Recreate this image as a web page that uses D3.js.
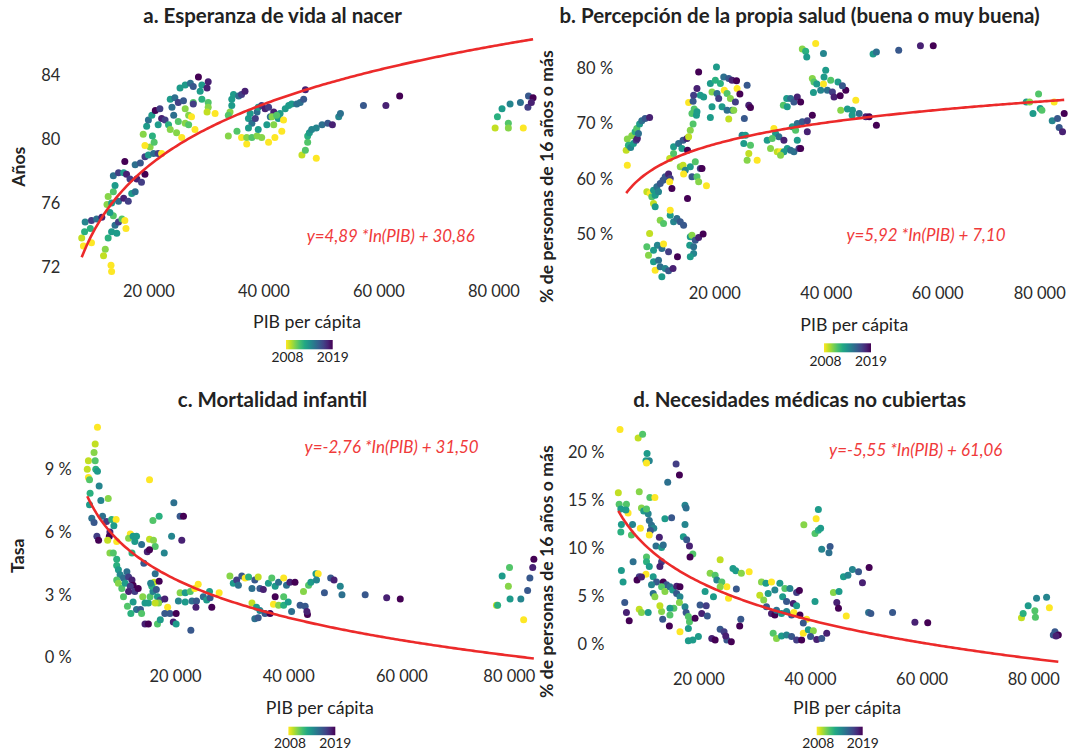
<!DOCTYPE html>
<html><head><meta charset="utf-8">
<script src="https://cdn.jsdelivr.net/npm/d3@7"></script>
<style>body{margin:0;background:#fff}svg{display:block}</style>
</head><body><svg id="chart" width="1084" height="755"></svg>
<script>
// ---------- DATA: [PIB per cápita, valor, año] ----------
const lifeExp = [
[8700,73.3,2008],[8400,73.8,2009],[8900,74.2,2012],[9000,74.8,2014],[10100,74.9,2017],[11000,75.0,2015],[11900,75.1,2018],[9900,74.4,2012],[10100,73.5,2008],[12500,73.1,2010],[12200,72.7,2009],[13500,72.1,2008],[13600,71.7,2008],[13000,73.8,2012],[13600,74.2,2013],[14500,74.1,2013],[14200,74.6,2015],[14800,74.8,2017],[15400,75.0,2011],[15900,74.9,2008],[16100,74.4,2008],[13900,75.2,2011],[13300,75.4,2013],[12800,75.9,2010],[13600,76.0,2013],[14800,76.1,2015],[15700,76.3,2018],[16500,76.1,2017],[17100,76.6,2013],[17700,76.7,2015],[13000,76.4,2010],[13900,76.7,2011],[14200,77.1,2013],[13900,77.7,2015],[14800,77.9,2017],[15700,77.9,2013],[16200,77.8,2018],[16800,77.5,2017],[15900,78.6,2019],[17700,78.4,2015],[18600,78.5,2016],[18000,77.5,2018],[18800,77.3,2017],[19400,77.8,2019],[19400,78.9,2017],[20000,79.0,2013],[20900,79.1,2015],[21700,79.1,2017],[22300,79.1,2008],[20300,79.5,2010],[19400,79.6,2008],[21000,79.8,2011],[20700,80.2,2012],[19100,80.3,2010],[19700,80.8,2013],[20000,81.2,2015],[20600,81.5,2013],[21200,81.8,2019],[22000,81.9,2017],[22300,81.3,2018],[21700,80.9,2013],[22900,81.2,2017],[23500,80.9,2012],[23800,80.6,2010],[24900,80.4,2010],[25800,80.1,2008],[24400,81.5,2015],[24100,82.0,2015],[23800,82.5,2013],[24600,82.6,2015],[25200,82.3,2017],[26100,82.4,2016],[26400,81.9,2010],[25500,83.2,2013],[26400,83.4,2013],[27300,83.5,2015],[27800,83.3,2016],[28700,83.9,2019],[29300,83.4,2013],[30200,83.2,2018],[30400,83.6,2018],[29000,83.0,2013],[29300,82.5,2012],[30400,82.3,2011],[30400,82.0,2010],[27800,82.3,2011],[27800,82.2,2017],[27000,81.5,2010],[27500,81.4,2008],[25200,81.1,2011],[26400,81.0,2010],[27000,80.9,2011],[28100,80.6,2008],[31600,81.6,2008],[30200,81.7,2009],
[33900,80.2,2010],[34200,81.7,2010],[33900,81.5,2011],[34500,82.1,2013],[34500,82.5,2013],[34800,82.8,2013],[35700,82.7,2015],[36200,82.8,2017],[36800,83.0,2018],[35400,80.5,2011],[36200,80.1,2008],[37100,79.7,2008],[37400,81.3,2013],[37700,81.6,2013],[38000,81.0,2015],[38600,81.3,2017],[38900,81.7,2015],[39100,82.0,2013],[39700,82.1,2017],[40300,81.9,2018],[40900,82.0,2017],[41200,81.4,2015],[41800,81.7,2018],[37400,80.7,2013],[37100,80.1,2010],[38000,80.1,2011],[38900,80.2,2010],[39100,80.6,2013],[39700,80.1,2010],[40600,80.9,2013],[40900,79.8,2008],[42000,80.1,2008],[41800,80.9,2010],[41500,81.4,2010],[42600,81.3,2013],[43200,80.5,2008],[43500,81.2,2008],[42900,81.6,2013],[43800,81.9,2013],[44400,82.1,2013],[44900,82.2,2013],[45800,82.2,2015],[46400,82.3,2015],[47000,82.5,2016],[47300,83.1,2018],[42300,81.5,2011],
[46700,79.0,2009],[47300,79.3,2011],[49200,78.8,2008],[47700,79.8,2011],[47700,80.2,2012],[48000,80.4,2013],[48400,80.6,2014],[49200,80.7,2014],[50200,80.9,2015],[51200,81.0,2016],[52000,80.9,2018],[53100,81.4,2014],[53400,81.6,2015],[57400,82.1,2016],[61300,82.1,2018],[63700,82.7,2019],
[80300,80.7,2009],[80700,81.4,2012],[81500,81.9,2013],[82900,82.2,2014],[84700,82.3,2015],[86100,82.7,2016],[86000,82.0,2017],[82600,81.0,2011],[82600,80.7,2010],[85200,80.7,2008],[86900,82.6,2019],[86600,82.3,2018]
];
const selfHealth = [
[4400,62.5,2008],[4200,65.2,2009],[4400,67.2,2010],[4600,66.1,2012],[5000,65.7,2014],[5500,66.4,2013],[5200,67.8,2010],[6000,67.0,2017],[6200,67.3,2018],[5800,68.5,2012],[6100,69.1,2011],[6600,69.9,2013],[7000,70.5,2015],[7600,70.9,2016],[8400,71.1,2018],[6400,68.2,2015],
[7900,57.7,2009],[8500,57.4,2008],[9100,58.0,2013],[8800,56.8,2011],[9400,57.1,2013],[9700,58.6,2015],[10000,57.7,2014],[10300,59.2,2016],[10800,59.8,2016],[11200,60.4,2016],[11800,60.9,2018],[12100,60.1,2017],[12000,59.5,2008],[12400,58.3,2019],[9100,55.6,2009],[9400,55.0,2013],[8400,50.2,2009],[7900,47.8,2011],[8200,46.3,2010],[9100,47.2,2013],[9800,48.1,2014],[10600,47.5,2015],[10900,48.3,2008],[9100,45.1,2013],[10000,45.4,2015],[9400,43.6,2008],[10300,44.2,2015],[11200,43.9,2014],[11800,43.5,2016],[12600,43.9,2018],[10600,42.4,2013],[11800,46.9,2017],[13400,46.0,2019],[10300,52.6,2010],[10900,52.0,2011],[12100,53.5,2013],[12700,52.3,2014],[13300,52.9,2015],[13900,52.3,2016],[14500,51.7,2016],[12100,54.4,2008],[15200,56.5,2019],[15700,49.6,2013],[15600,48.1,2013],[16300,47.8,2015],[16000,49.9,2010],[16600,49.0,2016],[17200,49.5,2018],[18000,50.1,2019],[16300,46.6,2014],[15700,46.0,2013],
[12700,65.8,2013],[13600,66.4,2015],[14400,67.0,2016],[15100,67.3,2018],[14200,65.5,2013],[15200,65.2,2019],[12000,63.7,2009],[12700,64.6,2011],[13900,62.2,2010],[14400,62.5,2009],[14800,61.6,2014],[14500,60.9,2008],[15700,62.2,2013],[16000,60.4,2016],[16900,60.4,2011],[17500,61.9,2017],[17800,61.9,2019],[17200,59.5,2010],[18600,58.8,2008],[16600,63.1,2011],[15400,67.6,2009],[15700,68.8,2010],[16200,69.9,2011],[16000,71.8,2011],[16800,71.5,2013],[15400,73.8,2008],[16200,74.0,2016],[16400,72.6,2011],[16900,72.1,2013],[17200,79.3,2019],[16900,76.3,2018],[17500,75.1,2013],[18100,74.8,2013],[16300,75.1,2017],
[19300,77.2,2013],[19600,75.7,2010],[20200,77.8,2012],[20400,80.2,2013],[21100,77.2,2012],[21700,78.4,2015],[22600,78.1,2016],[23200,77.8,2018],[24000,77.7,2019],[21800,76.0,2008],[22300,75.4,2011],[20500,75.4,2015],[20800,74.5,2017],[22900,74.5,2010],[24100,76.3,2008],[24600,75.3,2019],[23800,73.9,2017],[25900,76.9,2016],[26200,73.3,2018],[26500,72.9,2019],[19600,73.0,2013],[21400,73.0,2013],[22300,72.4,2015],[23200,72.4,2015],[23500,72.4,2010],[22600,70.8,2009],[19300,71.1,2013],[25400,70.9,2016],
[25000,67.9,2014],[25600,67.9,2013],[25300,66.4,2013],[26500,66.1,2011],[26200,64.6,2009],[27700,63.4,2008],[25900,63.4,2010],[29500,67.0,2013],[30100,65.5,2010],[30700,69.1,2008],[31000,68.2,2013],[31600,67.6,2015],[32500,67.0,2018],[30400,67.3,2011],[31300,64.9,2009],[31900,64.9,2008],[32400,73.3,2011],[33000,74.5,2013],[33700,74.5,2015],[34300,73.9,2016],[34900,74.8,2018],[35500,73.9,2019],[33100,73.0,2013],[34000,69.4,2013],[34900,70.0,2015],[35800,70.3,2016],[36700,70.5,2017],[37600,71.5,2019],[36700,68.5,2018],[34600,68.8,2011],[34900,67.0,2013],[33100,65.5,2013],[33700,65.2,2015],[34300,64.9,2015],[35200,65.5,2017],[35500,65.5,2019],[32500,64.9,2013],[31900,64.3,2010],
[35800,83.4,2010],[36400,83.0,2012],[36600,82.0,2013],[38200,84.4,2008],[39600,82.6,2014],[40000,79.6,2013],[37600,78.1,2010],[37900,77.5,2011],[38400,77.1,2013],[39600,77.1,2008],[39700,78.4,2013],[40900,77.8,2011],[42200,77.5,2013],[37800,75.6,2013],[39100,76.0,2014],[40300,76.0,2015],[41200,75.7,2017],[41500,74.8,2018],[42600,75.0,2019],[43600,76.0,2019],[43000,76.8,2016],[45400,74.2,2008],[42700,72.4,2010],[43900,72.6,2013],[44800,72.4,2013],[46000,71.8,2015],[44750,71.5,2013],[47200,71.2,2018],[47800,71.2,2019],[49100,69.7,2019],
[48500,82.5,2013],[49100,82.9,2015],[53100,83.2,2016],[57000,84.0,2018],[59300,84.0,2019],
[76000,73.9,2013],[76600,73.9,2010],[78200,75.3,2011],[77200,71.8,2013],[78500,72.7,2013],[78800,72.4,2011],[81000,73.9,2008],[80650,70.5,2014],[81600,70.9,2016],[82800,71.8,2019],[81900,69.3,2016],[82500,68.5,2018]
];
const infantMort = [
[6300,11.0,2008],[5900,10.2,2009],[5700,9.8,2010],[4700,9.4,2009],[5900,9.4,2011],[4500,9.0,2009],[6000,9.0,2012],[6300,8.9,2013],[4700,8.6,2008],[4900,8.5,2011],[6600,8.2,2014],[5000,7.85,2012],[4900,7.3,2013],[6900,7.5,2014],[8200,7.6,2010],[5300,6.65,2015],[5700,6.45,2016],[7200,6.75,2015],[7900,6.5,2017],[8800,6.6,2012],[9600,6.6,2008],[9200,6.3,2013],[6200,5.8,2017],[6500,5.6,2019],[8500,6.0,2018],[8400,5.8,2019],[8100,5.6,2009],[9700,5.55,2008],[12100,5.9,2008],[11800,5.7,2010],[12600,5.8,2013],[13200,5.8,2013],[12900,5.55,2013],[14100,5.4,2015],[15500,5.65,2009],[16200,5.6,2010],[16500,5.3,2011],[15100,5.05,2018],[15500,5.15,2019],[8500,5.0,2010],[9100,5.0,2011],[12400,5.0,2012],[9700,4.7,2012],[14500,4.5,2016],[18100,5.0,2014],[15500,8.5,2008],[16100,6.55,2011],[17200,6.75,2012],[19800,7.4,2015],[20900,6.75,2016],[21500,6.75,2019],[19400,5.8,2014],[21200,5.6,2018],
[9700,4.4,2012],[10000,4.2,2013],[10300,3.95,2014],[10900,3.8,2015],[11500,4.1,2015],[11800,3.85,2017],[12400,3.7,2018],[12600,3.45,2019],[9700,3.7,2011],[10000,3.55,2010],[10600,3.3,2011],[11200,3.55,2013],[12100,3.4,2017],[12900,3.15,2017],[13500,3.3,2019],[11800,3.15,2018],[10900,2.9,2011],[12600,2.65,2013],[13200,2.3,2015],[13900,2.3,2016],[11600,2.45,2011],[12200,2.1,2012],[14300,2.9,2010],[14700,2.6,2013],[15300,2.6,2013],[15600,2.9,2011],[16100,3.15,2014],[16300,3.6,2009],[15900,3.4,2012],[16700,3.25,2016],[17200,3.65,2019],[16900,2.9,2013],[17400,2.75,2016],[18200,2.8,2018],[17100,2.6,2010],[16500,2.6,2009],[18700,2.4,2008],[18200,2.1,2016],[19100,2.1,2016],[20200,2.1,2019],[19700,1.7,2018],[14700,1.6,2018],[15300,1.6,2019],[16900,1.6,2011],[17400,1.8,2013],[20200,1.6,2013],[22800,1.3,2016],[15700,3.55,2014],[16500,4.0,2015],[14100,2.1,2011],
[20900,3.1,2010],[21800,3.1,2013],[22700,3.15,2011],[23500,3.3,2008],[24100,3.5,2008],[20600,2.7,2014],[21800,2.65,2013],[23000,2.7,2015],[23800,2.7,2016],[23700,2.4,2018],[25000,2.9,2015],[25600,2.75,2013],[26200,2.85,2016],[26500,2.4,2019],[27800,3.1,2008],[26100,3.15,2013],
[29700,3.9,2010],[30300,3.55,2013],[30900,3.7,2017],[31200,3.45,2015],[31800,3.9,2016],[32400,3.8,2008],[33000,3.85,2012],[33600,3.3,2015],[34100,3.7,2016],[34700,3.85,2009],[35000,3.3,2016],[35600,3.25,2018],[36500,3.55,2013],[37100,3.8,2011],[37700,3.4,2013],[38300,3.6,2015],[39200,3.8,2008],[39700,3.45,2015],[40300,3.6,2018],[41200,3.6,2019],[33600,2.6,2009],[34400,2.4,2013],[35000,2.25,2014],[34100,1.85,2015],[34700,1.9,2016],[35900,2.1,2016],[36800,2.1,2019],[37700,2.9,2019],[37400,2.55,2008],[38300,2.5,2010],[39200,2.5,2012],[40000,2.65,2013],[39200,2.9,2011],[40600,2.2,2015],[42100,2.5,2016],[43000,2.45,2016],[43400,2.05,2019],[43300,2.2,2018],[42700,3.15,2010],[43600,3.45,2011],[44000,3.6,2013],[44900,4.0,2013],[45300,4.0,2008],[45000,3.7,2014],
[46400,3.1,2016],[47500,3.8,2016],[48100,3.7,2018],[49200,3.4,2014],[49500,3.0,2015],[53600,3.0,2016],[57400,2.85,2018],[59800,2.8,2019],[76800,2.5,2009],[77000,2.5,2012],[77800,3.9,2013],[79100,4.3,2011],[78900,3.4,2010],[79200,2.8,2013],[81100,2.8,2014],[81600,1.8,2008],[82300,3.2,2016],[82700,3.8,2016],[83200,4.3,2018],[83400,4.7,2019]
];
const unmetNeeds = [
[5950,22.4,2008],[9200,21.5,2009],[10000,21.9,2011],[10800,19.9,2013],[10600,19.15,2013],[11200,19.15,2014],[10700,18.9,2008],[16000,18.8,2017],[16600,17.65,2019],[14500,16.9,2015],[5650,15.8,2009],[9400,15.9,2010],[11300,15.3,2011],[12200,15.3,2008],[5800,14.6,2011],[7100,14.6,2011],[6100,14.1,2013],[7400,13.7,2008],[7000,14.0,2013],[9800,14.2,2010],[10200,13.9,2013],[11000,13.6,2014],[10700,14.1,2011],[14000,13.1,2013],[15200,13.2,2016],[17600,14.5,2014],[17800,14.2,2015],[6200,12.5,2013],[8200,12.5,2014],[11200,12.9,2015],[11600,12.4,2015],[12000,12.1,2014],[11400,11.85,2016],[6100,11.7,2012],[8000,11.4,2011],[9600,12.1,2008],[11200,11.4,2008],[13000,11.15,2018],[17600,12.5,2014],[17300,11.2,2013],[17900,10.9,2016],[12400,10.25,2015],[13400,10.1,2013],[13700,10.35,2015],[18400,10.25,2018],[19000,9.4,2011],[18500,9.1,2019],[10700,9.1,2011],[10700,8.6,2012],[8300,8.6,2015],[13400,8.6,2017],[13100,8.1,2018],[6200,7.7,2013],[11200,8.1,2013],[10600,7.3,2008],[9400,7.05,2017],[9000,6.7,2019],[9800,7.0,2018],[6500,6.5,2013],[11900,7.05,2013],[12500,6.5,2016],[11600,6.2,2014],[11900,5.3,2015],[12200,4.95,2010],[13700,6.5,2019],[14300,6.2,2016],[13400,6.0,2011],[14000,5.5,2010],[14900,6.0,2015],[15400,5.65,2013],[16100,6.05,2018],[16700,6.0,2019],[16100,5.3,2016],[16700,4.95,2014],[16600,4.35,2010],[15600,3.75,2011],[13400,3.4,2010],[14900,3.75,2013],[6800,4.35,2016],[7100,3.3,2018],[7600,2.45,2019],[9400,3.65,2009],[9800,3.3,2010],[11000,3.3,2013],[13100,4.0,2009],[13600,2.6,2016],[14800,1.9,2019],[14900,3.05,2011],[17600,3.9,2014],[17800,3.3,2016],[18200,2.9,2011],[18200,1.65,2013],[16700,1.3,2008],[18400,2.35,2011],[19400,2.7,2019],[20300,4.1,2016],[21400,4.0,2017],[20600,3.2,2018],[21600,2.95,2016],[18200,0.35,2013],[19000,0.45,2013],[20000,0.8,2013],[22400,0.6,2018],[23000,0.45,2019],[23900,1.55,2016],[24600,1.3,2017],[25100,0.45,2016],[25900,0.25,2019],[24900,0.85,2018],[27600,2.6,2016],[27400,1.9,2019],[21200,5.5,2013],[22700,4.95,2013],[22100,7.4,2010],[23000,7.2,2011],[23900,8.8,2009],[23300,6.7,2014],[24200,6.5,2011],[25100,6.0,2008],[25400,4.8,2008],[23900,6.0,2010],[26200,7.9,2013],[26700,7.65,2013],[27700,7.4,2010],[26800,5.75,2016],[29100,7.55,2008],
[31300,6.5,2010],[32100,6.35,2013],[33100,6.5,2008],[34600,6.35,2013],[35500,5.8,2011],[36400,5.8,2014],[37600,5.4,2017],[38100,5.6,2019],[31000,5.1,2009],[31700,4.6,2010],[32500,5.3,2013],[33700,5.65,2014],[35100,4.95,2013],[35800,4.45,2016],[37000,4.25,2018],[37600,4.0,2013],[32200,3.9,2016],[33100,3.2,2018],[33700,3.05,2019],[34000,3.55,2015],[34900,3.2,2013],[35800,3.4,2014],[36700,3.05,2016],[37100,3.3,2008],[38200,3.05,2019],[39400,2.6,2008],[38800,2.2,2016],[33400,1.15,2011],[34000,0.6,2010],[34900,0.85,2013],[35800,0.95,2014],[36700,0.8,2016],[37600,0.45,2017],[38500,0.45,2019],[38800,1.15,2008],[39700,1.5,2013],[40600,1.4,2010],[40100,0.8,2016],[41200,0.5,2018],[42100,0.6,2016],[43000,1.15,2018],[40900,4.45,2013],[41500,14.05,2013],[41100,13.1,2008],[38900,12.45,2010],[40900,11.55,2011],[41500,11.9,2012],[41900,12.1,2013],[42100,9.9,2014],[43600,10.2,2016],[43400,9.55,2015],[44200,5.4,2010],[45200,5.5,2013],[44800,4.35,2018],[45100,3.75,2019],[46500,2.95,2008],[46000,7.05,2013],[46800,7.2,2014],
[47600,7.8,2014],[48700,7.55,2016],[50600,8.0,2019],[49400,6.4,2018],[50500,3.3,2015],[50900,3.2,2016],[54800,3.3,2016],[58800,2.3,2018],[61100,2.25,2019],[77900,2.75,2009],[78200,3.2,2012],[79100,4.0,2013],[80300,3.5,2011],[80400,2.8,2011],[80600,4.8,2014],[82400,4.9,2014],[82900,3.8,2008],[83600,0.95,2016],[83900,1.3,2016],[84500,0.95,2019],[84100,0.85,2018]
];

const yearRange = [2008, 2019];
const xTicks = [20000, 40000, 60000, 80000];
const yTicksA = [72, 76, 80, 84];
const yTicksB = [50, 60, 70, 80];
const yTicksC = [0, 3, 6, 9];
const yTicksD = [0, 5, 10, 15, 20];
const panelTitles = ["a. Esperanza de vida al nacer", "b. Percepción de la propia salud (buena o muy buena)", "c. Mortalidad infantil", "d. Necesidades médicas no cubiertas"];
const yTitles = ["Años", "% de personas de 16 años o más", "Tasa", "% de personas de 16 años o más"];
const xTitle = "PIB per cápita";
const eqLabels = ["y=4,89 *In(PIB) + 30,86", "y=5,92 *In(PIB) + 7,10", "y=-2,76 *In(PIB) + 31,50", "y=-5,55 *In(PIB) + 61,06"];
// log trend: y = slope*ln(x - shift) + intercept
const trendSlope = [4.98, 5.63, -2.656, -5.82];
const trendShift = [3000, 0, 0, 0];
const trendIntercept = [29.8, 10.5, 30.05, 64.19];

// ---------- LAYOUT ----------
const FONT = "Lato, 'Open Sans', sans-serif";
const svg = d3.select("#chart");
svg.append("rect").attr("width", 1084).attr("height", 755).attr("fill", "#fff");

function fitSize(str, target, weight, style) {
  const t = svg.append("text").attr("font-size", 100).attr("font-weight", weight)
    .attr("font-style", style || "normal").style("font-family", FONT).text(str);
  const w = t.node().getComputedTextLength(); t.remove();
  return 100 * target / w;
}
const sTitle = fitSize(panelTitles[0], 258.7, 700);
const sTick = fitSize("20 000", 52, 400);
const sAxis = fitSize(xTitle, 108, 400);
const sYT = fitSize(yTitles[1], 253, 700);
const sEq = fitSize(eqLabels[0], 168.3, 400, "italic");
const sLeg = fitSize("2008", 32, 400);

const panels = [
  {data: lifeExp, yTicks: yTicksA, fmt: d => d, xr: [33.4, 493.4], yd: [72, 84], yr: [266.8, 75.3],
   yAxisX: 60.4, xBase: 296.7, title: [272.6, 22.7], yT: [24.8, 166.7], xT: [307, 327.7], eq: [306.7, 241.7], leg: [286, 340, 46.7, 9.3, 362.3]},
  {data: selfHealth, yTicks: yTicksB, fmt: d => d + " %", xr: [602.8, 1048.6], yd: [50, 80], yr: [234.6, 68],
   yAxisX: 613.1, xBase: 299.3, title: [799.6, 22.7], yT: [553, 176.7], xT: [854.3, 330.5], eq: [846.4, 240.7], leg: [824, 343.3, 47, 9, 365.7]},
  {data: infantMort, yTicks: yTicksC, fmt: d => d + " %", xr: [61.8, 514.6], yd: [0, 9], yr: [657.5, 469.2],
   yAxisX: 71.8, xBase: 681.7, title: [272.4, 406.7], yT: [23.5, 555.8], xT: [319.8, 714.3], eq: [304.6, 452.7], leg: [288.4, 726.7, 46.9, 8.5, 748.3]},
  {data: unmetNeeds, yTicks: yTicksD, fmt: d => d + " %", xr: [586.8, 1033.2], yd: [0, 20], yr: [644.2, 452.5],
   yAxisX: 604.5, xBase: 685, title: [799.6, 406.7], yT: [553, 571.7], xT: [847, 714.3], eq: [829.1, 456], leg: [816.7, 726.7, 46, 8.5, 748.3]}
];

const color = d3.scaleSequential(t => d3.interpolateViridis(1 - t)).domain(yearRange);
const grad = svg.append("defs").append("linearGradient").attr("id", "vir");
d3.range(0, 1.0001, 0.1).forEach(t => grad.append("stop").attr("offset", t).attr("stop-color", d3.interpolateViridis(1 - t)));
const fmtX = d => d3.format(",")(d).replace(/,/g, " ");

panels.forEach((p, i) => {
  const g = svg.append("g");
  const x = d3.scaleLinear().domain([0, 80000]).range(p.xr);
  const y = d3.scaleLinear().domain(p.yd).range(p.yr);
  const xExt = d3.extent(p.data, d => d[0]);

  g.append("text").attr("x", p.title[0]).attr("y", p.title[1]).attr("text-anchor", "middle")
    .attr("font-size", sTitle).attr("font-weight", 700).attr("fill", "#222").style("font-family", FONT).text(panelTitles[i]);

  const ya = g.append("g").attr("transform", `translate(${p.yAxisX},0)`)
    .call(d3.axisLeft(y).tickValues(p.yTicks).tickFormat(p.fmt).tickSize(0).tickPadding(0));
  ya.select(".domain").remove();
  ya.attr("font-size", sTick).attr("font-family", FONT).attr("color", "#2b2b2b");

  const xa = g.append("g").attr("transform", `translate(0,${p.xBase})`)
    .call(d3.axisBottom(x).tickValues(xTicks).tickFormat(fmtX).tickSize(0).tickPadding(0));
  xa.select(".domain").remove();
  xa.attr("font-size", sTick).attr("font-family", FONT).attr("color", "#2b2b2b");
  xa.selectAll("text").attr("y", 0).attr("dy", 0);
  const limit = x(xExt[1]) + 1;
  xa.selectAll(".tick").each(function(d) {
    const t = d3.select(this).select("text");
    const w = t.node().getComputedTextLength();
    const right = x(d) + w / 2;
    if (right > limit) t.attr("dx", limit - right);
  });

  g.append("text").attr("x", p.xT[0]).attr("y", p.xT[1]).attr("text-anchor", "middle")
    .attr("font-size", sAxis).attr("fill", "#222").style("font-family", FONT).text(xTitle);
  g.append("text").attr("transform", `translate(${p.yT[0]},${p.yT[1]}) rotate(-90)`).attr("text-anchor", "middle")
    .attr("font-size", sYT).attr("font-weight", 700).attr("fill", "#222").style("font-family", FONT).text(yTitles[i]);

  g.append("g").selectAll("circle").data(p.data).join("circle")
    .attr("cx", d => x(d[0])).attr("cy", d => y(d[1])).attr("r", 3.5)
    .attr("fill", d => color(d[2]));

  const xs = d3.range(0, 201).map(k => xExt[0] + (xExt[1] - xExt[0]) * k / 200);
  const line = d3.line().x(v => x(v)).y(v => y(trendSlope[i] * Math.log(v - trendShift[i]) + trendIntercept[i]));
  g.append("path").datum(xs).attr("d", line).attr("fill", "none").attr("stroke", "#ec2a2a").attr("stroke-width", 2.6);

  g.append("text").attr("x", p.eq[0]).attr("y", p.eq[1]).attr("font-size", sEq).attr("font-style", "italic")
    .attr("fill", "#f03a3a").style("font-family", FONT).text(eqLabels[i]);

  const [lx, ly, lw, lh, lb] = p.leg;
  g.append("rect").attr("x", lx).attr("y", ly).attr("width", lw).attr("height", lh).attr("fill", "url(#vir)");
  const ls = d3.scaleLinear().domain(yearRange).range([lx + 1.5, lx + lw]);
  yearRange.forEach(yr => g.append("text").attr("x", ls(yr)).attr("y", lb).attr("text-anchor", "middle")
    .attr("font-size", sLeg).attr("fill", "#222").style("font-family", FONT).text(yr));
});
</script></body></html>
